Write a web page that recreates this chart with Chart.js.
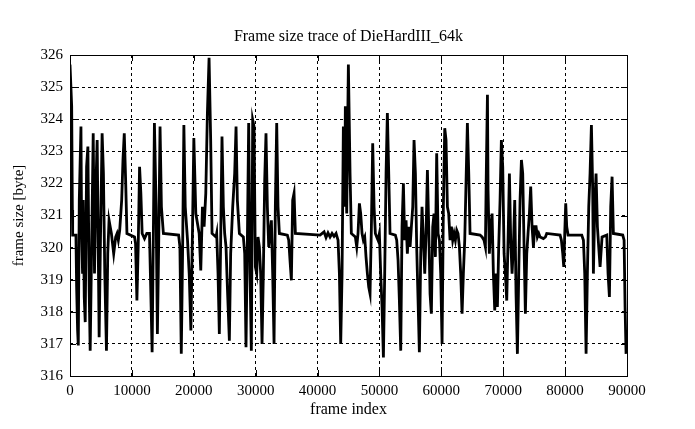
<!DOCTYPE html>
<html>
<head>
<meta charset="utf-8">
<title>Frame size trace of DieHardIII_64k</title>
<script src="https://cdn.jsdelivr.net/npm/chart.js@4.4.1/dist/chart.umd.min.js"></script>
<style>
  html, body { margin: 0; padding: 0; background: #fff; }
  #chart { display: block; }
</style>
</head>
<body>
<canvas id="chart" width="695" height="429"></canvas>
<script>
// frame index / frame size [byte]
var frameIndex = [
  0, 270, 380, 430, 960, 1070, 1230, 1340, 1500, 1770, 1870, 2030, 2140, 2300, 2460, 2680,
  2890, 3100, 3260, 3480, 3750, 3960, 4170, 4390, 4710, 4920, 5190, 5400, 5620, 5890, 6100,
  6310, 6690, 7060, 7380, 7600, 7810, 8030, 8350, 8560, 8770, 8990, 9200, 10430, 10590, 10810,
  11020, 11240, 11450, 11660, 12040, 12410, 12840, 13110, 13270, 13480, 13640, 13910, 14120,
  14340, 14550, 14770, 15090, 17550, 17760, 17980, 18190, 18400, 18620, 18990, 19260, 19530,
  19800, 20010, 20330, 20870, 21130, 21400, 21670, 21940, 22200, 22470,
  22730, 22950, 23590, 23700, 23920, 24130, 24350, 24560, 24780, 24990, 25210, 25430, 25750,
  25960, 26290, 26610, 26830, 27040, 27370, 28010, 28230, 28440, 28660, 28870, 29090, 29300,
  29520, 29740, 29950, 30170, 30380, 30600, 30810, 31030, 31240, 31460, 31670, 31890, 32110,
  32320, 32540, 32750, 32970, 33180, 33400, 33610, 33830, 35120, 35340, 35550, 35770, 35980,
  36200, 36420, 40400, 41050, 41370, 41690, 42020, 42340, 42660, 42990, 43310, 43530, 43740,
  43960, 44170, 44390,
  44490, 44710, 44980, 45250, 45460, 46110, 46330, 46540, 46760, 46970, 47190, 47400, 47620,
  47830, 48050, 48270, 48480, 48700, 48910, 49130, 49340, 49560, 49770, 49990, 50200, 50420,
  50640, 50850, 51070, 51280, 51500, 51710, 52570, 52790, 53010, 53220, 53440, 53650, 53870,
  54080, 54300, 54510, 54730, 54950, 55160, 55380, 55590, 55810, 56020, 56240, 56450, 56670,
  56880, 57100, 57320, 57530, 57750, 57960, 58180, 58390, 58610, 58820, 59040, 59250, 59470,
  59690, 59900, 60120, 60330, 60550, 60760, 60980, 61190, 61410, 61630, 61840, 62060, 62270,
  62490, 62700, 62920, 63130, 63350, 63560, 63780, 64000, 64210, 64430, 64640, 66260, 66580,
  66900, 67120, 67250, 67450,
  67550, 67760, 67980, 68200, 68410, 68630, 68840, 69060, 69270, 69490, 69700, 69920, 70140,
  70350, 70570, 70780, 71000, 71210, 71430, 71640, 71860, 72070, 72290, 72510, 72720, 72940,
  73150, 73370, 73580, 73800, 74010, 74230, 74440, 74660, 74880, 75090, 75310, 75520, 75740,
  75950, 76490, 76820, 77030, 79190, 79400, 79620, 79780, 79940, 80100, 80260, 80480, 82690,
  82960, 83170, 83390, 83600, 83820, 84030, 84250, 84460, 84570, 84790, 85000, 85220, 85430,
  85650, 85970, 86730, 86940, 87160, 87370, 87590, 87800, 89310, 89530, 89690, 89850
];
var frameSize = [
  325.70, 324.40, 321.17, 320.39, 320.39, 318.77, 317.42, 316.95, 321.48, 323.77, 320.65, 319.19, 321.48, 318.46, 317.68, 322.52,
  323.15, 318.67, 316.79, 319.81, 323.56, 319.19, 321.79, 323.35, 317.21, 320.23, 323.56, 322.31, 319.19, 316.79, 319.81,
  320.85, 320.44, 319.81, 320.33, 320.44, 320.23, 320.54, 321.48, 322.73, 323.56, 322.10, 320.44, 320.33, 320.13, 318.35,
  320.02, 322.52, 321.69, 320.44, 320.28, 320.44, 320.44, 318.15, 316.74, 320.65, 323.88, 321.27, 317.31,
  320.23, 323.77, 321.27, 320.44, 320.39, 320.02, 316.69, 319.81, 323.82, 321.27, 320.23, 319.19, 317.42,
  320.65, 323.41, 321.06, 320.44, 319.29, 321.27, 320.65, 321.69, 324.19, 325.91,
  323.35, 320.44, 320.33, 320.44, 319.19, 317.31, 320.23, 323.46, 321.27, 320.44, 320.02, 318.77, 317.10,
  319.81, 321.27, 322.31, 323.77, 321.48, 320.44, 320.33, 319.81, 316.90, 320.23, 323.88, 319.19, 316.79,
  323.98, 323.77, 319.40, 319.19, 320.33, 320.02, 319.19, 317.00, 319.19, 322.10, 323.56, 321.27, 320.02,
  320.44, 320.85, 319.19, 317.00, 321.27, 323.88, 321.27, 320.44, 320.39, 320.23, 319.60, 318.98, 321.48,
  321.69, 320.44, 320.39, 320.49, 320.31, 320.46, 320.33, 320.44, 320.35, 320.44, 320.23, 319.19, 317.00,
  319.19, 323.77, 321.27,
  324.40, 321.06, 325.70, 322.31, 320.44, 320.33, 320.02, 320.44, 321.38, 321.06, 320.44, 320.23, 320.33,
  319.71, 319.19, 318.77, 318.56, 320.65, 323.25, 321.27, 320.44, 320.33, 320.23, 320.44, 319.19, 318.15,
  316.58, 319.19, 322.31, 324.19, 322.31, 320.44, 320.39, 320.23, 319.60, 318.35, 316.79, 320.65, 322.00,
  320.23, 320.85, 319.81, 320.65, 320.02, 320.65, 321.27, 323.35, 322.31, 320.02, 318.35, 316.74, 319.81,
  321.27, 320.23, 319.19, 320.44, 322.42, 320.65, 318.56, 317.94, 320.65, 321.06, 319.71, 322.94, 320.44,
  320.23, 319.19, 317.00, 321.27, 323.72, 323.35, 321.27, 321.06, 320.23, 320.65, 320.23, 320.44, 320.23,
  320.54, 320.44, 320.02, 319.19, 317.94, 319.19, 320.23, 322.10, 323.88, 322.31, 320.44, 320.39, 320.33,
  320.23, 320.02, 322.10, 324.76,
  321.79, 319.81, 320.65, 321.06, 319.19, 318.04, 319.19, 318.15, 320.02, 321.48, 323.35, 322.52, 319.81,
  319.19, 318.35, 320.23, 322.31, 320.23, 319.19, 320.02, 321.48, 318.56, 316.69, 319.19, 321.48, 322.73,
  322.31, 320.02, 317.94, 319.81, 320.44, 321.06, 321.90, 320.65, 320.02, 320.65, 320.65, 320.33, 320.44,
  320.33, 320.28, 320.33, 320.44, 320.39, 320.23, 319.81, 319.40, 320.44, 321.38, 320.65, 320.39, 320.39,
  320.23, 319.19, 316.69, 319.19, 321.27, 322.31, 323.82, 321.79, 319.19, 321.27, 322.31, 320.65, 320.02,
  319.40, 320.33, 320.39, 319.19, 318.46, 321.27, 322.21, 320.44, 320.39, 320.23, 318.15, 316.69
];
var xTicks = [0, 10000, 20000, 30000, 40000, 50000, 60000, 70000, 80000, 90000];
var yTicks = [316, 317, 318, 319, 320, 321, 322, 323, 324, 325, 326];

var serif = '"Liberation Serif", "DejaVu Serif", serif';

var points = [];
for (var i = 0; i < frameIndex.length; i++) {
  points.push({ x: frameIndex[i], y: frameSize[i] });
}

// solid frame round the plot plus the short inward tick marks
var framePlugin = {
  id: "frame",
  afterDatasetsDraw: function (chart) {
    var a = chart.chartArea;
    var ctx = chart.ctx;
    var xs = chart.scales.x;
    var ys = chart.scales.y;
    ctx.save();
    ctx.strokeStyle = "#000";
    ctx.lineWidth = 1;
    ctx.setLineDash([]);
    ctx.beginPath();
    xTicks.forEach(function (t) {
      var px = Math.round(xs.getPixelForValue(t)) + 0.5;
      ctx.moveTo(px, a.bottom);
      ctx.lineTo(px, a.bottom - 6);
      ctx.moveTo(px, a.top);
      ctx.lineTo(px, a.top + 6);
    });
    yTicks.forEach(function (t) {
      var py = Math.round(ys.getPixelForValue(t)) + 0.5;
      ctx.moveTo(a.left, py);
      ctx.lineTo(a.left + 6, py);
      ctx.moveTo(a.right, py);
      ctx.lineTo(a.right - 6, py);
    });
    ctx.stroke();
    ctx.strokeRect(Math.round(a.left) + 0.5, Math.round(a.top) + 0.5,
      Math.round(a.right - a.left), Math.round(a.bottom - a.top));
    ctx.restore();
  }
};

new Chart(document.getElementById("chart"), {
  type: "line",
  data: {
    datasets: [{
      data: points,
      borderColor: "#000",
      borderWidth: 2.8,
      pointRadius: 0,
      tension: 0,
      fill: false
    }]
  },
  options: {
    responsive: false,
    animation: false,
    devicePixelRatio: 1,
    layout: { padding: { left: 0, right: 68, top: 0, bottom: 0 } },
    plugins: {
      legend: { display: false },
      tooltip: { enabled: false },
      title: {
        display: true,
        text: "Frame size trace of DieHardIII_64k",
        fullSize: false,
        color: "#000",
        font: { family: serif, size: 16, weight: "normal" },
        padding: { top: 27.4, bottom: 8.4 }
      }
    },
    scales: {
      x: {
        type: "linear",
        min: 0,
        max: 90000,
        afterFit: function (s) { s.height = 53; },
        afterBuildTicks: function (s) {
          s.ticks = xTicks.map(function (v) { return { value: v }; });
        },
        ticks: {
          color: "#000",
          font: { family: serif, size: 15 },
          padding: 6,
          maxRotation: 0,
          autoSkip: false,
          callback: function (v) { return String(v); }
        },
        grid: { color: "#000", lineWidth: 1, drawTicks: false },
        border: { display: false, dash: [3, 3] },
        title: {
          display: true,
          text: "frame index",
          color: "#000",
          font: { family: serif, size: 16 },
          padding: { top: 0, bottom: 10 }
        }
      },
      y: {
        min: 316,
        max: 326,
        afterFit: function (s) { s.width = 70; },
        afterBuildTicks: function (s) {
          s.ticks = yTicks.map(function (v) { return { value: v }; });
        },
        ticks: {
          color: "#000",
          font: { family: serif, size: 15 },
          padding: 7,
          autoSkip: false,
          callback: function (v) { return String(v); }
        },
        grid: { color: "#000", lineWidth: 1, drawTicks: false },
        border: { display: false, dash: [3, 3] },
        title: {
          display: true,
          text: "frame size [byte]",
          color: "#000",
          font: { family: serif, size: 15 },
          padding: { top: 10, bottom: 0 }
        }
      }
    }
  },
  plugins: [framePlugin]
});
</script>
</body>
</html>
